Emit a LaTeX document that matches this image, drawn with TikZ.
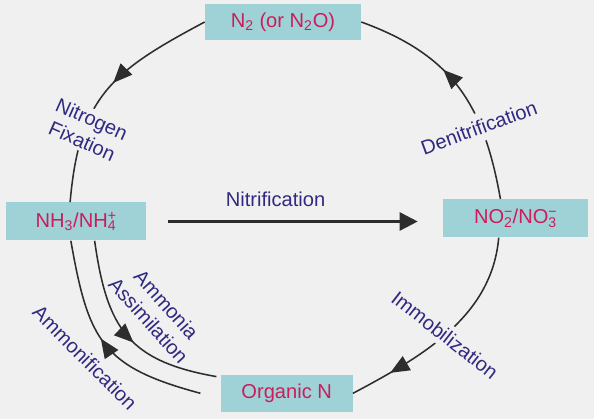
\documentclass[tikz,border=0pt]{standalone}
\usepackage{fontspec}
\setmainfont{Liberation Sans}
\usetikzlibrary{arrows.meta,decorations.markings}
\definecolor{bgray}{RGB}{240,240,240}
\definecolor{boxteal}{RGB}{158,210,214}
\definecolor{chemred}{RGB}{204,28,92}
\definecolor{procblue}{RGB}{48,42,128}
\definecolor{linegray}{RGB}{45,45,45}
\newcommand{\ionsub}[2]{\rlap{\textsuperscript{#2}}\textsubscript{#1}}
\begin{document}
\begin{tikzpicture}[x=0.025cm,y=0.025cm,font=\fontsize{14.3}{17}\selectfont,
	pool/.style={fill=boxteal,text=chemred,minimum height=0.92cm,inner sep=0pt},
	proc/.style={text=procblue,align=center,inner sep=1pt},
	flowline/.style={draw=linegray,line width=1.1pt},
	midarrow/.style={postaction={decorate},decoration={markings,mark=at position #1 with {\arrow{Triangle[length=0.48cm,width=0.4cm]}}}}]
	\fill[bgray] (0,0) rectangle (594,419);
	\node[pool,minimum width=3.9cm] (n2) at (283,397) {N\textsubscript{2} (or N\textsubscript{2}O)};
	\node[pool,minimum width=3.5cm,minimum height=0.95cm] (nh) at (76,197.5) {NH\textsubscript{3}/NH\ionsub{4}{+}};
	\node[pool,minimum width=3.625cm,minimum height=0.95cm] (no) at (515.5,200.7) {NO\ionsub{2}{−}/NO\ionsub{3}{−}};
	\node[pool,minimum width=3.3cm] (org) at (286.7,25.7) {Organic N};
	\draw[flowline,midarrow=0.46] (n2.west) to[out=208,in=85,looseness=1.2] (nh.107);
	\draw[flowline,midarrow=0.6] (no.128) to[out=100,in=-20,looseness=1.1] (n2.east);
	\draw[flowline,midarrow=0.81] (no.-131) to[out=265,in=28,looseness=0.95] (org.east);
	\draw[flowline,midarrow=0.53] ([xshift=-0.5cm]org.west) to[out=165,in=-80,looseness=1.3] (nh.255);
	\draw[flowline,midarrow=0.55] (nh.-46) to[out=-82,in=170,looseness=1.25] ([xshift=-0.1cm,yshift=-0.05cm]org.north west);
	\draw[-{Triangle[length=0.45cm,width=0.45cm]},draw=linegray,line width=1.9pt,shorten <=0.55cm,shorten >=0.625cm] (nh.east) -- (nh.east -| no.west);
	\node[proc] (lnit) at (275.5,219.5) {Nitrification};
	\node[proc,fill=bgray,inner ysep=2pt,rotate=-24] (lfix) at (87,289) {Nitrogen\\Fixation};
	\node[proc,fill=bgray,inner ysep=5pt,rotate=20] (lden) at (479,291.5) {Denitrification};
	\node[proc,fill=bgray,inner ysep=3.5pt,rotate=-38] (limm) at (445,84) {Immobilization};
	\node[proc,rotate=-45] (lamf) at (85,61.5) {Ammonification};
	\node[proc,rotate=-48] (lass) at (157.5,106.5) {Ammonia\\Assimilation};
\end{tikzpicture}
\end{document}
